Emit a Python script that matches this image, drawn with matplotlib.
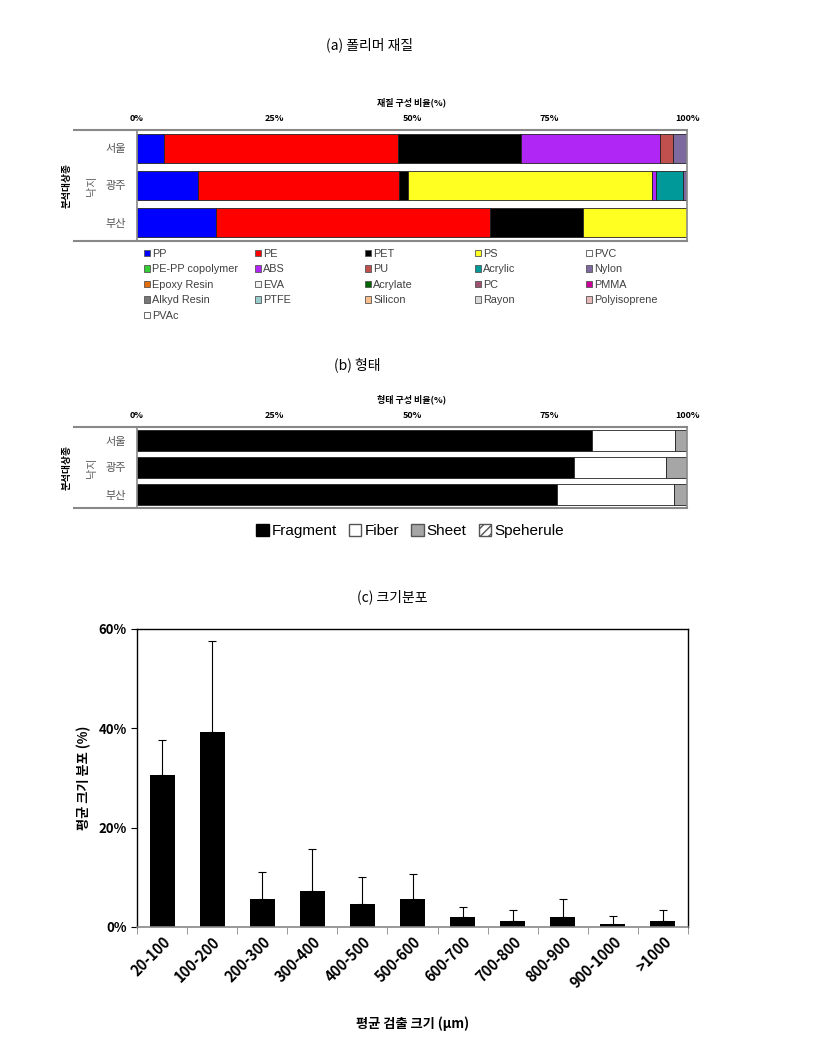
import matplotlib
matplotlib.use('Agg')
import matplotlib.pyplot as plt
import numpy as np
from matplotlib.patches import Patch
from matplotlib.lines import Line2D

plt.rcParams['font.family'] = ['Noto Sans CJK KR', 'DejaVu Sans']

# (a) polymer composition (%)
cities = ['서울', '광주', '부산']
polymers = ['PP', 'PE', 'PET', 'PS', 'PVC', 'PE-PP copolymer', 'ABS', 'PU', 'Acrylic', 'Nylon',
            'Epoxy Resin', 'EVA', 'Acrylate', 'PC', 'PMMA', 'Alkyd Resin', 'PTFE', 'Silicon',
            'Rayon', 'Polyisoprene', 'PVAc']
seoul_pct = [4.9, 42.6, 22.4, 0, 0, 0, 25.2, 2.4, 0, 2.5, 0, 0, 0, 0, 0, 0, 0, 0, 0, 0, 0]
gwangju_pct = [11.0, 36.7, 1.5, 44.4, 0, 0, 0.7, 0, 5.0, 0.7, 0, 0, 0, 0, 0, 0, 0, 0, 0, 0, 0]
busan_pct = [14.4, 49.8, 16.8, 19.0, 0, 0, 0, 0, 0, 0, 0, 0, 0, 0, 0, 0, 0, 0, 0, 0, 0]
poly_colors = ['#0000ff', '#ff0000', '#000000', '#ffff22', '#ffffff', '#33cc33', '#b026f5', '#c0504d',
               '#009999', '#7f6a9f', '#e46c0a', '#f2f2f2', '#006600', '#a05070', '#cc0099',
               '#777777', '#99cccc', '#fabf8f', '#d9d9d9', '#e6b9b8', '#ffffff']

# (b) shape composition (%)
shapes = ['Fragment', 'Fiber', 'Sheet', 'Speherule']
shape_seoul = [82.7, 15.1, 2.2, 0]
shape_gwangju = [79.5, 16.7, 3.8, 0]
shape_busan = [76.3, 21.4, 2.3, 0]

# (c) size distribution (%)
size_bins = ['20-100', '100-200', '200-300', '300-400', '400-500', '500-600',
             '600-700', '700-800', '800-900', '900-1000', '>1000']
size_mean = [30.6, 39.2, 5.6, 7.2, 4.6, 5.6, 2.1, 1.2, 2.1, 0.7, 1.2]
size_err = [7.1, 18.3, 5.5, 8.5, 5.5, 5.1, 1.9, 2.2, 3.5, 1.5, 2.2]

W, H = 821, 1057
fig = plt.figure(figsize=(W / 100, H / 100), dpi=100)


def fx(px):
    return px / W


def fy(py):
    return 1 - py / H


def stacked(ax, rows, colors, hatches=None):
    rows = np.array(rows, dtype=float)
    y = np.arange(rows.shape[0])
    left = np.zeros(rows.shape[0])
    for j in range(rows.shape[1]):
        ax.barh(y, rows[:, j], left=left, height=0.8, color=colors[j],
                edgecolor='#222222', linewidth=0.6,
                hatch=None if hatches is None else hatches[j])
        left += rows[:, j]
    ax.set_xlim(0, 100)
    ax.set_ylim(len(y) - 0.5, -0.5)
    ax.set_yticks(y)
    ax.set_yticklabels(cities, fontsize=8, color='#555555')
    ax.tick_params(axis='y', length=0, pad=8)
    ax.xaxis.tick_top()
    ax.xaxis.set_label_position('top')
    ax.set_xticks([0, 25, 50, 75, 100])
    ax.set_xticklabels(['0%', '25%', '50%', '75%', '100%'], fontsize=6.5, fontweight='bold')
    ax.tick_params(axis='x', length=0, pad=5)
    for s in ['left', 'right']:
        ax.spines[s].set_color('#888888')
        ax.spines[s].set_linewidth(1.2)
    for s in ['top', 'bottom']:
        ax.spines[s].set_visible(False)
    pos = ax.get_position()
    for yy in (pos.y0, pos.y1):
        fig.add_artist(Line2D([fx(74), pos.x1], [yy, yy], color='#888888', lw=1.5))
    ymid = (pos.y0 + pos.y1) / 2
    fig.text(fx(92), ymid, '낙지', rotation=90, ha='center', va='center', fontsize=8, color='#666666')
    fig.text(fx(67), ymid, '분석대상종', rotation=90, ha='center', va='center', fontsize=7,
             fontweight='bold')


# ---- (a)
fig.text(fx(370), fy(45), '(a) 폴리머 재질', ha='center', va='center', fontsize=10)
ax_a = fig.add_axes([fx(137), fy(241), fx(550), (241 - 130) / H])
stacked(ax_a, [seoul_pct, gwangju_pct, busan_pct], poly_colors)
ax_a.set_xlabel('재질 구성 비율(%)', fontsize=6.5, fontweight='bold', labelpad=6)

# legend: one legend per column so columns sit where the reference has them
col_x = [144, 255, 365, 475, 586]
for c in range(5):
    idx = list(range(c, len(polymers), 5))
    handles = [Patch(facecolor=poly_colors[i], edgecolor='#555555', linewidth=0.6) for i in idx]
    leg = fig.legend(handles, [polymers[i] for i in idx], loc='upper left',
                     bbox_to_anchor=(fx(col_x[c]), fy(249)), frameon=False,
                     handlelength=0.55, handleheight=0.55, handletextpad=0.2,
                     labelspacing=0.5, borderaxespad=0, borderpad=0,
                     prop={'family': ['Liberation Sans'], 'size': 7.8})
    for t in leg.get_texts():
        t.set_color('#404040')

# ---- (b)
fig.text(fx(357), fy(365), '(b) 형태', ha='center', va='center', fontsize=10)
ax_b = fig.add_axes([fx(137), fy(508), fx(550), (508 - 427) / H])
stacked(ax_b, [shape_seoul, shape_gwangju, shape_busan],
        ['#000000', '#ffffff', '#a6a6a6', '#ffffff'], hatches=[None, None, None, '////'])
ax_b.set_xlabel('형태 구성 비율(%)', fontsize=6.5, fontweight='bold', labelpad=6)
sh_handles = [Patch(facecolor='#000000', edgecolor='#000000'),
              Patch(facecolor='#ffffff', edgecolor='#555555'),
              Patch(facecolor='#a6a6a6', edgecolor='#555555'),
              Patch(facecolor='#ffffff', edgecolor='#555555', hatch='////')]
fig.legend(sh_handles, shapes, loc='center', bbox_to_anchor=(fx(410), fy(531)), ncol=4,
           frameon=False, handlelength=0.8, handleheight=0.8, handletextpad=0.2,
           columnspacing=0.8, prop={'family': ['Liberation Sans'], 'size': 11})

# ---- (c)
fig.text(fx(392), fy(597), '(c) 크기분포', ha='center', va='center', fontsize=10)
ax_c = fig.add_axes([fx(137), fy(927), fx(551), (927 - 629) / H])
x = np.arange(len(size_bins))
ax_c.bar(x, size_mean, width=0.5, color='black')
ax_c.errorbar(x, size_mean, yerr=[np.zeros(len(x)), size_err], fmt='none', ecolor='black',
              elinewidth=0.8, capsize=3, capthick=0.8)
ax_c.set_xlim(-0.5, len(x) - 0.5)
ax_c.set_ylim(0, 60)
ax_c.set_yticks([0, 20, 40, 60])
ax_c.set_yticklabels(['0%', '20%', '40%', '60%'], fontsize=9.5, fontweight='bold')
ax_c.set_xticks(x)
ax_c.set_xticklabels(size_bins, rotation=45, ha='right', rotation_mode='anchor',
                     fontsize=10.5, fontweight='bold')
ax_c.tick_params(axis='x', length=0, pad=5)
ax_c.set_xticks(np.arange(-0.5, len(x), 1), minor=True)
ax_c.tick_params(axis='x', which='minor', length=5, color='#888888', direction='out')
ax_c.tick_params(axis='y', length=4, direction='out')
ax_c.spines['bottom'].set_color('#888888')
ax_c.spines['bottom'].set_linewidth(1.2)
for s in ['left', 'top', 'right']:
    ax_c.spines[s].set_linewidth(1.0)
ax_c.set_ylabel('평균 크기 분포 (%)', fontsize=9.5, fontweight='bold', labelpad=5)
ax_c.set_xlabel('평균 검출 크기 (μm)', fontsize=9.5, fontweight='bold', labelpad=18)

fig.savefig('out.png', dpi=100)
